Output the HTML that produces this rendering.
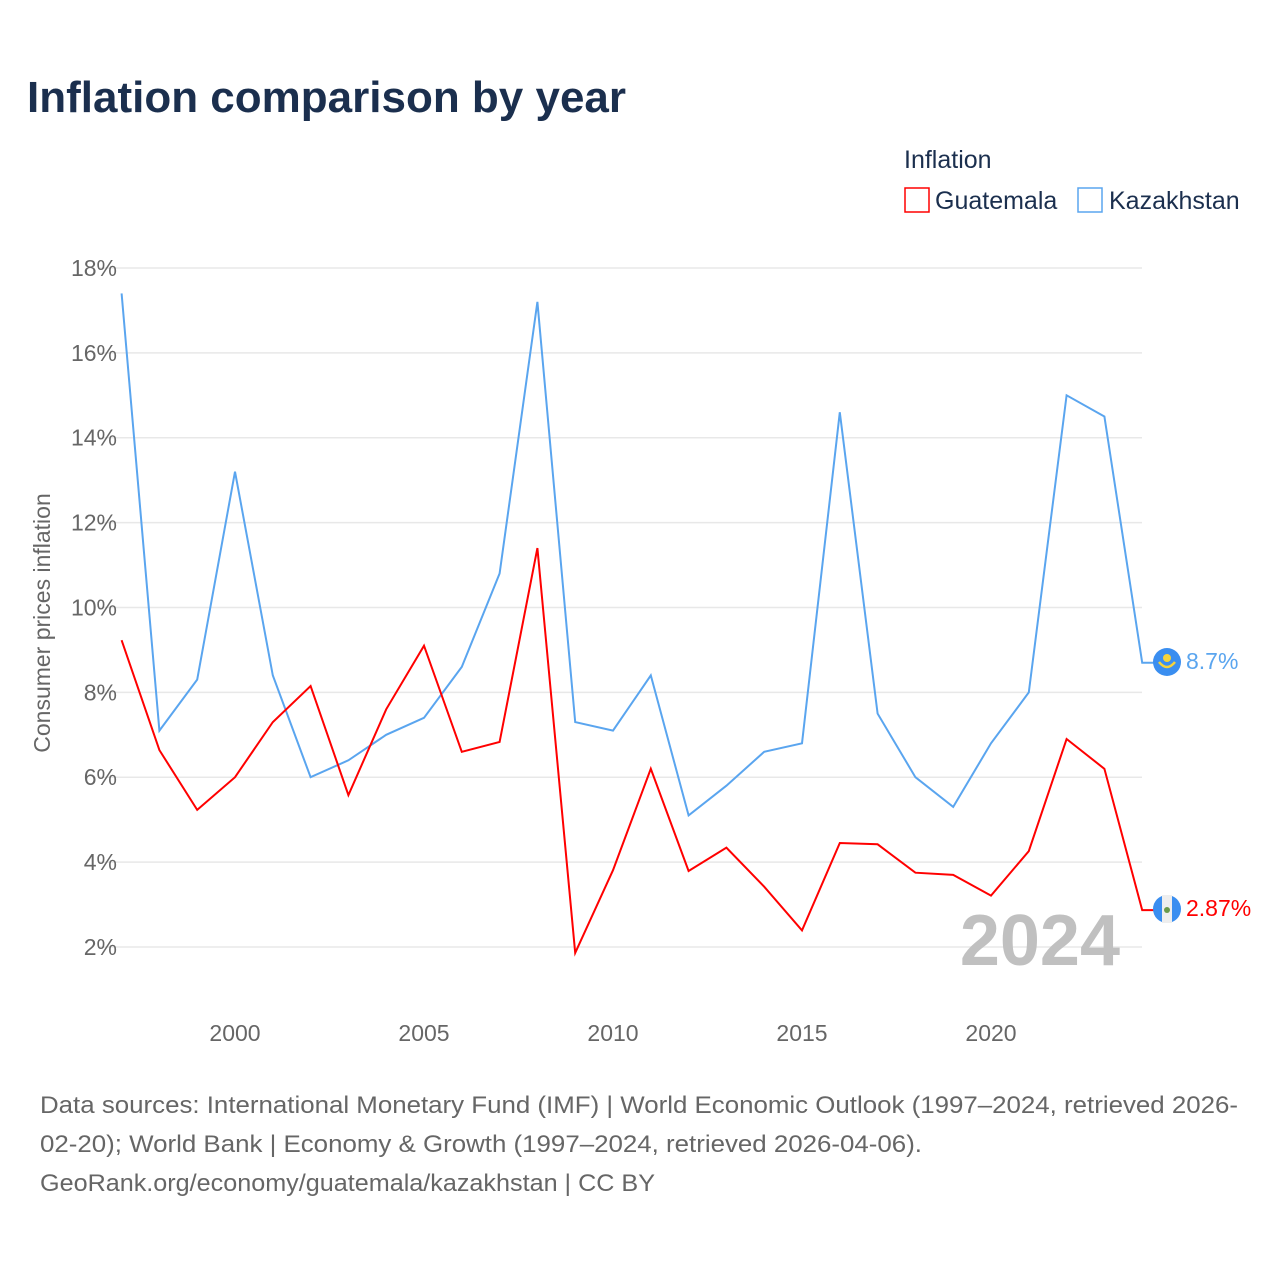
<!DOCTYPE html>
<html><head><meta charset="utf-8"><style>
body{margin:0;background:#fff;width:1280px;height:1280px;overflow:hidden;font-family:"Liberation Sans",sans-serif}
</style></head><body>
<svg id="c" width="1280" height="1280" xmlns="http://www.w3.org/2000/svg" style="font-family:'Liberation Sans',sans-serif">
<text x="27" y="112" font-size="44" font-weight="bold" fill="#1b2f4e">Inflation comparison by year</text>
<text x="904" y="168" font-size="25" fill="#1b2f4e">Inflation</text>
<g><rect x="905" y="188" width="24" height="24" fill="none" stroke="#f00" stroke-width="1.5"/><text x="935" y="209" font-size="25" fill="#1b2f4e">Guatemala</text></g>
<g><rect x="1078" y="188" width="24" height="24" fill="none" stroke="#5aa5ef" stroke-width="1.5"/><text x="1109" y="209" font-size="25" fill="#1b2f4e">Kazakhstan</text></g>
<g id="grid"></g><g id="ylab"></g><g id="xlab"></g>
<text transform="translate(50,623) rotate(-90)" text-anchor="middle" font-size="23" fill="#666">Consumer prices inflation</text>
<text x="1120" y="965" text-anchor="end" font-size="72" font-weight="bold" fill="#c0c0c0">2024</text>
<g id="lines"></g>
<g><circle cx="1167" cy="662" r="14" fill="#3a8ef0"/><circle cx="1167" cy="658" r="4" fill="#f5d33a"/><path d="M1159 662 Q1167 672 1175 662" stroke="#f5d33a" stroke-width="2.5" fill="none"/></g>
<g><circle cx="1167" cy="909" r="14" fill="#3a8ef0"/><rect x="1162" y="895" width="10" height="28" fill="#eee"/><circle cx="1167" cy="910" r="3" fill="#6a9a4a"/></g>
<text x="1186" y="669" font-size="23" fill="#5aa5ef">8.7%</text>
<text x="1186" y="916" font-size="23" fill="#f00">2.87%</text>
<g font-size="24" fill="#666">
<text x="40" y="1113" textLength="1198" lengthAdjust="spacingAndGlyphs">Data sources: International Monetary Fund (IMF) | World Economic Outlook (1997–2024, retrieved 2026-</text>
<text x="40" y="1152" textLength="882" lengthAdjust="spacingAndGlyphs">02-20); World Bank | Economy &amp; Growth (1997–2024, retrieved 2026-04-06).</text>
<text x="40" y="1191" textLength="615" lengthAdjust="spacingAndGlyphs">GeoRank.org/economy/guatemala/kazakhstan | CC BY</text></g>
</svg>
<script>
const years=[1997,1998,1999,2000,2001,2002,2003,2004,2005,2006,2007,2008,2009,2010,2011,2012,2013,2014,2015,2016,2017,2018,2019,2020,2021,2022,2023,2024];
const guatemala=[9.23,6.64,5.23,6.0,7.3,8.15,5.58,7.6,9.1,6.6,6.83,11.4,1.86,3.81,6.2,3.79,4.34,3.42,2.39,4.45,4.42,3.75,3.7,3.21,4.26,6.9,6.2,2.87];
const kazakhstan=[17.4,7.1,8.3,13.2,8.4,6.0,6.4,7.0,7.4,8.6,10.8,17.2,7.3,7.1,8.4,5.1,5.8,6.6,6.8,14.6,7.5,6.0,5.3,6.8,8.0,15.0,14.5,8.7];
const yTicks=[2,4,6,8,10,12,14,16,18];
const xTicks=[2000,2005,2010,2015,2020];
const NS='http://www.w3.org/2000/svg';
const X=v=>235+(v-2000)*37.8, Y=v=>947-(v-2)*42.44;
function mk(t,a,p){const e=document.createElementNS(NS,t);for(const k in a)e.setAttribute(k,a[k]);document.getElementById(p).appendChild(e);return e;}
yTicks.forEach(t=>{
 const l=mk('line',{x1:100,x2:1142,y1:Y(t),y2:Y(t),stroke:'#e8e8e8','stroke-width':1.5},'grid');
 
 
 const tx=mk('text',{x:117,y:Y(t)+8,'text-anchor':'end','font-size':23,fill:'#666'},'ylab');tx.textContent=t+'%';
 
 
});
xTicks.forEach(t=>{
 const tx=mk('text',{x:X(t),y:1041,'text-anchor':'middle','font-size':23,fill:'#666'},'xlab');tx.textContent=t;
 
 
});
function line(vals,col,name){
 let d=vals.map((v,i)=>(i?'L':'M')+X(years[i]).toFixed(1)+' '+Y(v).toFixed(1)).join(' ');
 d+=' L'+(X(years[years.length-1])+12)+' '+Y(vals[vals.length-1]).toFixed(1);
 const p=mk('path',{d:d,fill:'none',stroke:col,'stroke-width':2},'lines');
 
 
}
line(kazakhstan,'#5aa5ef','kazakhstan-line');
line(guatemala,'#f00','guatemala-line');
</script>
</body></html>
